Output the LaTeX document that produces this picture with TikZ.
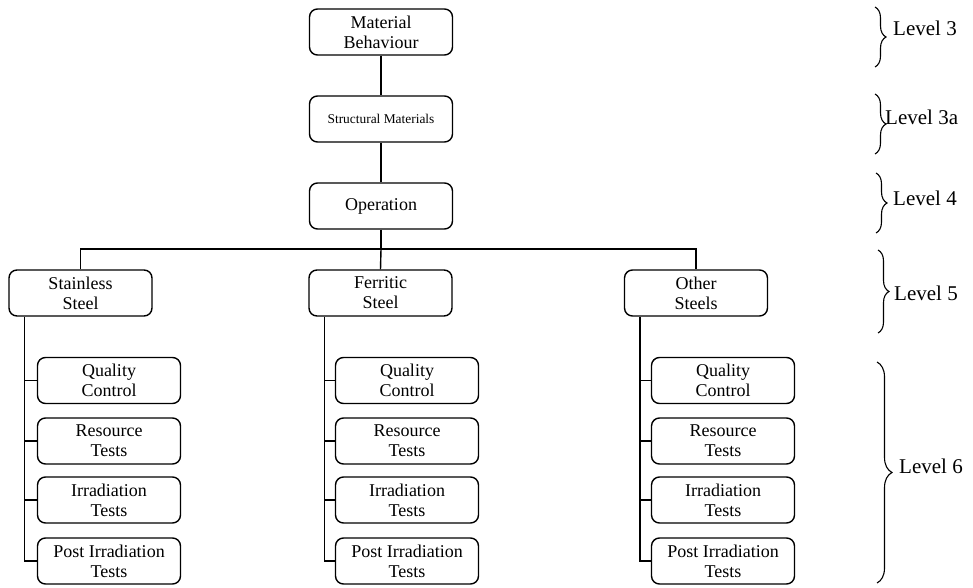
\documentclass[tikz,border=0pt]{standalone}
\usepackage{fontspec}
\setmainfont{Liberation Serif}
\usetikzlibrary{decorations.pathreplacing}
\begin{document}
\begin{tikzpicture}[x=1pt,y=-1pt,
  box/.style={draw,rounded corners=8pt,line width=1.4pt,minimum width=143pt,
    minimum height=46pt,inner sep=0pt,align=center,
    font=\fontsize{18}{20}\selectfont},
  small/.style={font=\fontsize{13.4}{16}\selectfont},
  link/.style={line width=1.4pt},
  lvl/.style={anchor=base west,inner sep=0pt,font=\fontsize{21}{24}\selectfont},
  brc/.style={decorate,decoration={brace,amplitude=#1},line width=1.1pt},
  brc/.default=11pt]
\useasboundingbox (0,0) rectangle (973,588);

% upper chain
\node[box] (mb) at (381,32) {Material\\Behaviour};
\node[box,small] (sm) at (381,119) {Structural Materials};
\node[box] (op) at (381,206) {Operation};

% steel groups
\node[box] (ss) at (80.5,293) {Stainless\\Steel};
\node[box] (fs) at (380.5,293) {Ferritic\\Steel};
\node[box] (os) at (696,293) {Other\\Steels};

% tests under each steel group
\foreach \g/\cx in {ss/109, fs/407, os/723}{
  \node[box] (\g q) at (\cx,380.5) {Quality\\Control};
  \node[box] (\g r) at (\cx,441) {Resource\\Tests};
  \node[box] (\g i) at (\cx,500) {Irradiation\\Tests};
  \node[box] (\g p) at (\cx,561) {Post Irradiation\\Tests};
}

% connectors
\coordinate (bus) at (381,249);
\draw[link] (mb.south) -- (sm.north);
\draw[link] (sm.south) -- (op.north);
\draw[link] (op.south) -- (bus);
\draw[link] (ss.north) |- (bus) -| (os.north);
\draw[link] (bus) -- (fs.north);

\foreach \g in {ss,fs,os}{
  \coordinate (\g t) at ([xshift=16pt]\g.south west);
  \draw[link] (\g t) |- (\g p.west)
              (\g t) |- (\g q.west)
              (\g t) |- (\g r.west)
              (\g t) |- (\g i.west);
}

% level braces
\draw[brc] (875,7) -- (875,67);
\node[lvl] (l3) at (893,36) {Level 3};
\draw[brc] (875,94) -- (875,154);
\node[lvl] (l3a) at (885,125) {Level 3a};
\draw[brc] (876,173) -- (876,233);
\node[lvl] (l4) at (893,205) {Level 4};
\draw[brc] (878,250) -- (878,333);
\node[lvl] (l5) at (894,300) {Level 5};
\draw[brc=15pt] (877,362) -- (877,583);
\node[lvl] (l6) at (899,473) {Level 6};
\end{tikzpicture}
\end{document}
